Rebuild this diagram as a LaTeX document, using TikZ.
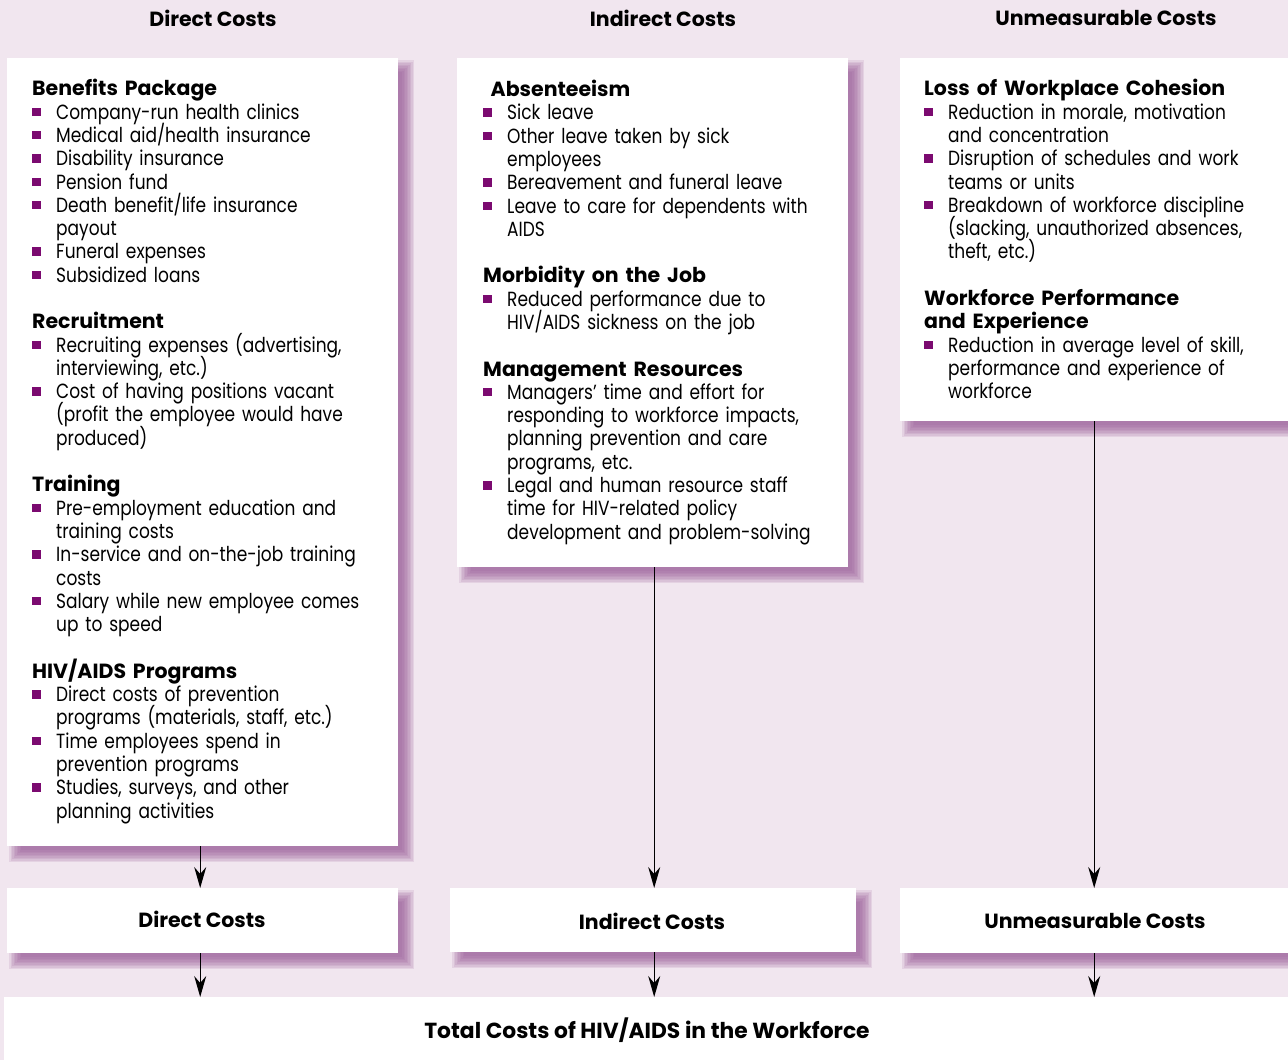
\documentclass[tikz,border=0pt]{standalone}
\usepackage{fontspec}
\setmainfont{Poppins}[FakeStretch=0.83, BoldFeatures={FakeStretch=1.0}]
\usetikzlibrary{arrows.meta,calc,backgrounds}

\definecolor{bgpink}{HTML}{F1E6EF}
\definecolor{shadowc}{HTML}{985A97}
\definecolor{bulletc}{HTML}{7B0A70}

% list helpers
\newcommand\sqb{\textcolor{bulletc}{\rule[3pt]{9pt}{8.5pt}}}
\newcommand\hd[1]{\par\noindent{\bfseries #1}}
\newcommand\itm[1]{\par\noindent\hangindent=24pt\hangafter=1\makebox[24pt][l]{\sqb}#1}
\newcommand\sect{\par\vspace{\baselineskip}}
\newcommand\firstline{\rule{0pt}{16pt}}
\newcommand\listfont{\fontsize{20.5}{23.3}\selectfont\lineskiplimit=-100pt\lineskip=0pt}

% soft drop shadow under a named node
\newcommand\dropshadow[1]{%
  \foreach \e in {7,5.5,4,2.5,1,-0.5,-2,-3.5,-5}{%
    \fill[shadowc, opacity=0.14]
      ($(#1.north west)+(9-\e,9-\e)$) rectangle ($(#1.south east)+(9+\e,9+\e)$);
  }%
}

\tikzset{
  panel/.style={fill=white, draw=none, inner sep=0pt, anchor=north west},
  listtext/.style={anchor=north west, inner sep=0pt, text width=400pt, align=left,
    font=\listfont},
  coltitle/.style={anchor=base, inner sep=0pt, font=\fontsize{20.5}{24}\selectfont\bfseries},
  arr/.style={line width=1.2pt, -{Stealth[length=21pt,width=12pt,inset=7pt]}}
}

\begin{document}
\begin{tikzpicture}[x=1pt, y=-1pt]
\useasboundingbox (0,0) rectangle (1288,1060);
\clip (0,0) rectangle (1288,1060);

% column titles
\node[coltitle] (tdirect) at (213,26.7) {Direct Costs};
\node[coltitle] (tindirect) at (663,26.7) {Indirect Costs};
\node[coltitle] (tunmeas) at (1106,25) {Unmeasurable Costs};

% content panels
\node[panel, minimum width=391pt, minimum height=788pt] (dbox) at (7,58) {};
\node[panel, minimum width=391pt, minimum height=509pt] (ibox) at (457,58) {};
\node[panel, minimum width=388pt, minimum height=363pt] (ubox) at (900,58) {};

% summary panels
\node[panel, minimum width=391pt, minimum height=65pt] (dsum) at (7,888) {};
\node[panel, minimum width=406pt, minimum height=64pt] (isum) at (450,888) {};
\node[panel, minimum width=388pt, minimum height=65pt] (usum) at (900,888) {};
\node[panel, minimum width=1290pt, minimum height=70pt] (total) at (4,997) {};

\begin{scope}[on background layer]
  \fill[bgpink] (0,0) rectangle (1288,1060);
  \dropshadow{dbox}
  \dropshadow{ibox}
  \dropshadow{ubox}
  \dropshadow{dsum}
  \dropshadow{isum}
  \dropshadow{usum}
\end{scope}

% direct costs list
\node[listtext] (dlist) at (32,72.3) {%
\hd{\firstline Benefits Package}
\itm{Company-run health clinics}
\itm{Medical aid/health insurance}
\itm{Disability insurance}
\itm{Pension fund}
\itm{Death benefit/life insurance\newline payout}
\itm{Funeral expenses}
\itm{Subsidized loans}
\sect
\hd{Recruitment}
\itm{Recruiting expenses (advertising,\newline interviewing, etc.)}
\itm{Cost of having positions vacant\newline (profit the employee would have\newline produced)}
\sect
\hd{Training}
\itm{Pre-employment education and\newline training costs}
\itm{In-service and on-the-job training\newline costs}
\itm{Salary while new employee comes\newline up to speed}
\sect
\hd{HIV/AIDS Programs}
\itm{Direct costs of prevention\newline programs (materials, staff, etc.)}
\itm{Time employees spend in\newline prevention programs}
\itm{Studies, surveys, and other\newline planning activities}\par};

% indirect costs list
\node[listtext] (ilist) at (483,73) {%
\hd{\firstline\hspace*{7.5pt}Absenteeism}
\itm{Sick leave}
\itm{Other leave taken by sick\newline employees}
\itm{Bereavement and funeral leave}
\itm{Leave to care for dependents with\newline AIDS}
\sect
\hd{Morbidity on the Job}
\itm{Reduced performance due to\newline HIV/AIDS sickness on the job}
\sect
\hd{Management Resources}
\itm{Managers’ time and effort for\newline responding to workforce impacts,\newline planning prevention and care\newline programs, etc.}
\itm{Legal and human resource staff\newline time for HIV-related policy\newline development and problem-solving}\par};

% unmeasurable costs list
\node[listtext] (ulist) at (924,72.3) {%
\hd{\firstline Loss of Workplace Cohesion}
\itm{Reduction in morale, motivation\newline and concentration}
\itm{Disruption of schedules and work\newline teams or units}
\itm{Breakdown of workforce discipline\newline (slacking, unauthorized absences,\newline theft, etc.)}
\sect
\hd{Workforce Performance\newline and Experience}
\itm{Reduction in average level of skill,\newline performance and experience of\newline workforce}\par};

% summary labels
\node[coltitle] (ldirect) at (202,927.3) {Direct Costs};
\node[coltitle] (lindirect) at (652,929) {Indirect Costs};
\node[coltitle] (lunmeas) at (1095,928.3) {Unmeasurable Costs};
\node[coltitle, font=\fontsize{21.8}{24}\selectfont\bfseries] (ltotal) at (647,1038.3) {Total Costs of HIV/AIDS in the Workforce};

% connectors
\draw[arr] ([xshift=-2.5pt]dbox.south) -- ([xshift=-2.5pt]dsum.north);
\draw[arr] ([xshift=1.5pt]ibox.south) -- ([xshift=1.5pt]ibox.south |- isum.north);
\draw[arr] (ubox.south) -- (usum.north);
\draw[arr] ([xshift=-2.5pt]dsum.south) -- ([xshift=-2.5pt]dsum.south |- total.north);
\draw[arr] ([xshift=1pt]isum.south) -- ([xshift=1pt]isum.south |- total.north);
\draw[arr] (usum.south) -- (usum.south |- total.north);
\end{tikzpicture}
\end{document}
